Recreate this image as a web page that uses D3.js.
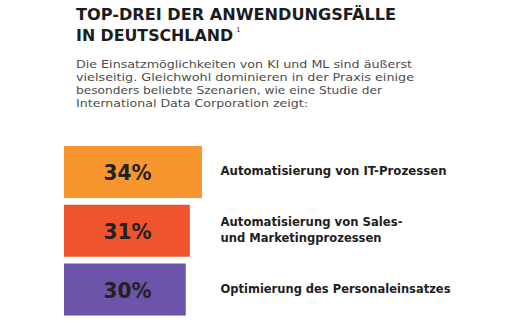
<!DOCTYPE html>
<html>
<head>
<meta charset="utf-8">
<script src="https://cdn.jsdelivr.net/npm/d3@7"></script>
<style>
  html, body { margin: 0; padding: 0; background: #fff; }
  svg { display: block; }
</style>
</head>
<body>
<script>
// ---- data ----
const titleLines = ["TOP-DREI DER ANWENDUNGSFÄLLE", "IN DEUTSCHLAND"];
const titleNote = "1";
const introLines = [
  "Die Einsatzmöglichkeiten von KI und ML sind äußerst",
  "vielseitig. Gleichwohl dominieren in der Praxis einige",
  "besonders beliebte Szenarien, wie eine Studie der",
  "International Data Corporation zeigt:"
];
const categories = [
  ["Automatisierung von IT-Prozessen"],
  ["Automatisierung von Sales-", "und Marketingprozessen"],
  ["Optimierung des Personaleinsatzes"]
];
const values = [34, 31, 30];
const valueLabels = ["34%", "31%", "30%"];
const barColors = ["#F7962F", "#EF542D", "#6C54AA"];

// ---- layout ----
const W = 516, H = 323;
const svg = d3.select("body").append("svg").attr("width", W).attr("height", H);

function fit(sel, w) {
  sel.attr("textLength", w).attr("lengthAdjust", "spacingAndGlyphs");
}

const heavyFont = "'DejaVu Sans', sans-serif";

// title: font size chosen so natural width is close to target
const tW = [320, 157];
const tY = [19.5, 41];
const probe = svg.append("text").attr("font-family", heavyFont).attr("font-weight", 700)
  .attr("font-size", 100).text(titleLines[1]);
const natural = probe.node().getComputedTextLength() / 100;
probe.remove();
const tSize = Math.min(16.5, tW[1] / natural);
titleLines.forEach((t, i) => {
  svg.append("text").attr("x", 76).attr("y", tY[i])
    .attr("font-family", heavyFont).attr("font-weight", 700).attr("font-size", tSize)
    .attr("fill", "#1c1c1c").text(t).call(fit, tW[i]);
});
svg.append("text").attr("x", 236.5).attr("y", 31.5)
  .attr("font-family", "'Liberation Sans', sans-serif")
  .attr("font-size", 6.5).attr("fill", "#222").text(titleNote);

// intro paragraph
const iW = [336, 338, 306, 232];
introLines.forEach((t, i) => {
  svg.append("text").attr("x", 76).attr("y", 68 + i * 13)
    .attr("font-family", "'DejaVu Sans', sans-serif").attr("font-weight", 400).attr("font-size", 11.1)
    .attr("fill", "#4d4d4d").text(t).call(fit, iW[i]);
});

// bars
const left = 64;
const x = d3.scaleLinear().domain([0, d3.max(values)]).range([0, 138]);
const y = d3.scaleBand().domain(d3.range(values.length)).range([146, 315.5]).paddingInner(0.115);

const g = svg.append("g");
g.selectAll("rect").data(values).join("rect")
  .attr("x", left).attr("y", (d, i) => y(i))
  .attr("width", d => x(d)).attr("height", y.bandwidth())
  .attr("fill", (d, i) => barColors[i]);

g.selectAll("text.val").data(valueLabels).join("text").attr("class", "val")
  .attr("x", left + 63.5).attr("y", (d, i) => y(i) + y.bandwidth() / 2 + 8)
  .attr("text-anchor", "middle")
  .attr("font-family", heavyFont).attr("font-weight", 700).attr("font-size", 21)
  .attr("fill", "#222").text(d => d).call(fit, 48);

// category labels
const labW = [[226], [182, 161], [230]];
categories.forEach((lines, i) => {
  const cy = y(i) + y.bandwidth() / 2;
  const n = lines.length;
  lines.forEach((t, j) => {
    const by = cy + 3 + (j - (n - 1) / 2) * 15.5;
    svg.append("text").attr("x", 220.5).attr("y", by)
      .attr("font-family", heavyFont).attr("font-weight", 700).attr("font-size", 11.5)
      .attr("fill", "#1e1e1e").text(t).call(fit, labW[i][j]);
  });
});
</script>
</body>
</html>
